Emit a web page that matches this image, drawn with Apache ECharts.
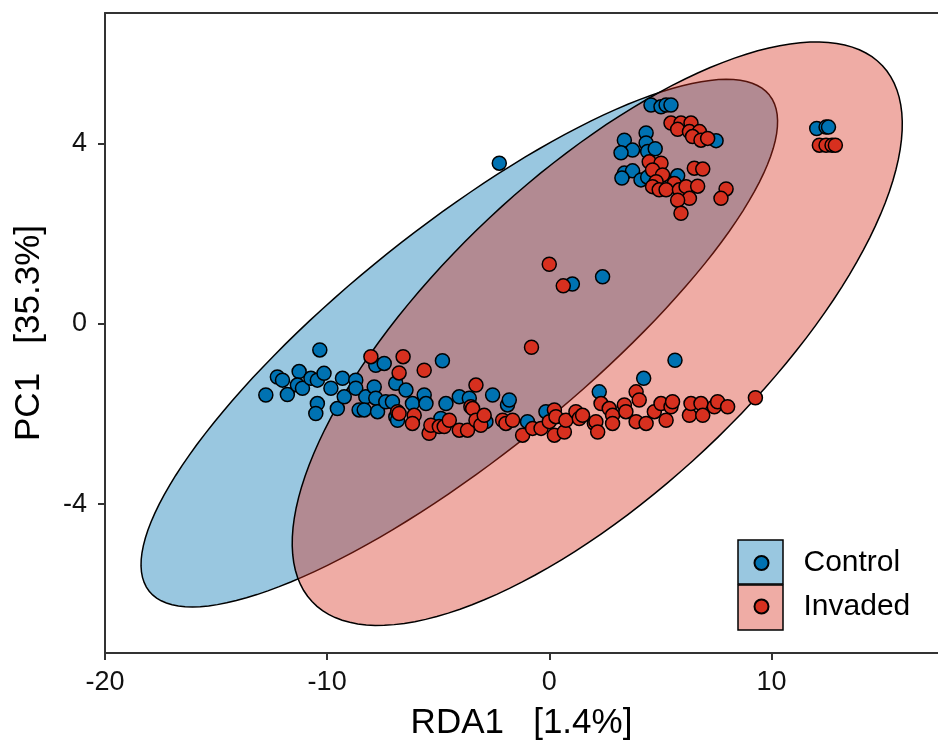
<!DOCTYPE html>
<html lang="en">
<head>
<meta charset="utf-8">
<title>RDA1 vs PC1</title>
<script src="https://cdn.jsdelivr.net/npm/echarts@6/dist/echarts.min.js"></script>
<style>
  html, body { margin: 0; padding: 0; background: #fff; }
  #chart { width: 938px; height: 742px; }
</style>
</head>
<body>
<div id="chart"></div>
<script>
// tick labels
var xTicks = [-20, -10, 0, 10];
var yTicks = [-4, 0, 4];

// groups
var groupNames = ['Control', 'Invaded'];
var groupColors = ['#0072B2', '#D7301F'];

// 95% ellipses: centre and the two semi-axis vectors (data units)
var controlCenter = [-4.05, -0.43];
var controlAxes = [[13.96, 5.50], [3.23, -1.99]];
var invadedCenter = [2.16, -0.22];
var invadedAxes = [[12.84, 5.94], [4.87, -2.56]];

// sample scores [RDA1, PC1]
var controlPoints = [
  [4.58, 4.85], [5.03, 4.81], [5.26, 4.85], [5.48, 4.85], [7.51, 4.06], [4.36, 4.23], [3.38, 4.07], [4.36, 4.01],
  [3.75, 3.85], [3.23, 3.79], [4.43, 3.82], [4.77, 3.88], [3.38, 3.34], [3.75, 3.39], [3.27, 3.23], [4.13, 3.19],
  [4.43, 3.25], [5.78, 3.28],
  [12.04, 4.33], [12.46, 4.36], [12.57, 4.36],
  [-2.25, 3.56], [2.40, 1.04], [1.04, 0.88], [5.66, -0.81], [4.25, -1.21], [2.25, -1.51], [-4.81, -0.82],
  [-12.76, -1.58], [-12.24, -1.18], [-12.01, -1.25], [-11.79, -1.57], [-11.26, -1.06], [-11.34, -1.36],
  [-11.11, -1.43], [-10.73, -1.21], [-10.44, -1.25], [-10.14, -1.10], [-10.33, -0.58], [-10.44, -1.77],
  [-10.51, -1.99], [-9.83, -1.43], [-9.54, -1.88], [-9.31, -1.21], [-9.23, -1.62], [-8.71, -1.25],
  [-8.71, -1.43], [-8.56, -1.91], [-8.26, -1.62], [-8.33, -1.91], [-7.88, -1.40], [-7.81, -1.65],
  [-7.73, -1.95], [-7.81, -0.92], [-7.43, -0.88], [-7.36, -1.73], [-7.06, -1.73], [-6.91, -1.32],
  [-6.45, -1.47], [-6.91, -2.06], [-6.83, -2.14], [-6.16, -1.77], [-5.63, -1.58], [-5.55, -1.77],
  [-4.88, -2.10], [-4.65, -1.77], [-4.05, -1.62], [-3.60, -1.65], [-2.85, -2.17], [-2.55, -1.58],
  [-1.88, -1.80], [-1.80, -1.69], [-0.98, -2.17], [-0.15, -1.95]
];
var invadedPoints = [
  [5.48, 4.45], [5.93, 4.45], [6.38, 4.45], [5.78, 4.31], [6.31, 4.26], [6.76, 4.26], [6.45, 4.15], [6.83, 4.07],
  [7.13, 4.11], [4.50, 3.59], [5.03, 3.56], [4.65, 3.41], [5.10, 3.30], [6.53, 3.45], [6.91, 3.43], [4.81, 3.15],
  [5.63, 3.11], [4.65, 3.04], [4.95, 2.97], [5.26, 2.97], [5.86, 2.97], [6.16, 3.04], [6.68, 3.05], [6.31, 2.78],
  [5.78, 2.74], [5.93, 2.45], [7.96, 2.99], [7.73, 2.78],
  [12.16, 3.96], [12.46, 3.96], [12.73, 3.96], [12.88, 3.96],
  [0.00, 1.32], [0.63, 0.84], [-0.80, -0.52], [-8.03, -0.73], [-6.58, -0.73], [-6.76, -1.09], [-5.63, -1.03],
  [-3.30, -1.36], [9.28, -1.64],
  [-6.83, -1.95], [-6.76, -1.99], [-6.08, -2.03], [-6.16, -2.21], [-5.41, -2.43], [-5.33, -2.25], [-4.95, -2.28],
  [-4.73, -2.28], [-4.50, -2.14], [-4.05, -2.36], [-3.68, -2.36], [-3.53, -1.84], [-3.45, -1.88], [-3.30, -2.14],
  [-3.08, -2.25], [-2.93, -2.03], [-2.10, -2.14], [-1.95, -2.21], [-1.65, -2.14], [-1.20, -2.47], [-0.75, -2.32],
  [-0.37, -2.32], [0.00, -2.17], [0.23, -2.47], [0.23, -1.91], [0.30, -2.06], [0.68, -2.40], [0.75, -2.14],
  [1.20, -1.95], [1.35, -2.10], [1.50, -2.03], [2.03, -2.21], [2.10, -2.17], [2.18, -2.40], [2.33, -1.77],
  [2.70, -1.88], [2.85, -2.03], [2.85, -2.21], [3.38, -1.80], [3.45, -1.95], [3.91, -1.51], [4.05, -1.69],
  [3.91, -2.17], [4.36, -2.21], [4.73, -1.95], [5.03, -1.77], [5.26, -2.14], [5.48, -1.84], [5.55, -1.73],
  [6.31, -2.03], [6.38, -1.77], [6.83, -1.77], [6.91, -2.03], [7.43, -1.84], [7.58, -1.73], [8.03, -1.84]
];

var FONT = '"Liberation Sans", Arial, sans-serif';

function hexA(hex, a) {
  var n = parseInt(hex.slice(1), 16);
  return 'rgba(' + (n >> 16) + ',' + ((n >> 8) & 255) + ',' + (n & 255) + ',' + a + ')';
}

// ellipse outline traced through the axes' own coordinate transform
function ellipseSeries(name, center, axes, color) {
  return {
    name: name + ' ellipse',
    type: 'custom',
    silent: true,
    data: [center],
    renderItem: function (params, api) {
      var pts = [];
      for (var i = 0; i <= 144; i++) {
        var t = i / 144 * Math.PI * 2;
        var c = Math.cos(t), s = Math.sin(t);
        pts.push(api.coord([
          center[0] + axes[0][0] * c + axes[1][0] * s,
          center[1] + axes[0][1] * c + axes[1][1] * s
        ]));
      }
      return {
        type: 'polygon',
        shape: { points: pts },
        style: { fill: hexA(color, 0.4), stroke: '#000', lineWidth: 1.5 }
      };
    }
  };
}

function pointSeries(name, data, color) {
  return {
    name: name,
    type: 'scatter',
    data: data,
    symbol: 'circle',
    symbolSize: 14,
    itemStyle: { color: color, borderColor: '#000', borderWidth: 1.5, opacity: 1 },
    emphasis: { disabled: true }
  };
}

var axisColor = '#333';

var chart = echarts.init(document.getElementById('chart'));
var option = {
  animation: false,
  backgroundColor: '#fff',
  grid: { left: 105, right: 0, top: 13, bottom: 89, outerBoundsMode: 'none' },
  legend: {
    data: groupNames,
    orient: 'vertical',
    left: 753.5,
    top: 548,
    padding: 0,
    itemWidth: 14,
    itemHeight: 14,
    itemGap: 13.5,
    selectedMode: false,
    textStyle: { fontFamily: FONT, fontSize: 30, color: '#000', lineHeight: 14, padding: [0, 0, 0, 30] }
  },
  graphic: [
    { type: 'rect', z: -1, shape: { x: 738, y: 540, width: 45, height: 44 },
      style: { fill: hexA(groupColors[0], 0.4), stroke: '#000', lineWidth: 1.5 } },
    { type: 'rect', z: -1, shape: { x: 738, y: 585, width: 45, height: 45 },
      style: { fill: hexA(groupColors[1], 0.4), stroke: '#000', lineWidth: 1.5 } }
  ],
  xAxis: [{
    type: 'value',
    min: -20,
    max: 17.5,
    name: 'RDA1   [1.4%]',
    nameLocation: 'middle',
    nameGap: 53,
    nameTextStyle: { fontFamily: FONT, fontSize: 35, color: '#000' },
    axisLine: { onZero: false, lineStyle: { color: axisColor, width: 2 } },
    axisTick: { customValues: xTicks, length: 7, lineStyle: { color: axisColor, width: 2 } },
    axisLabel: { customValues: xTicks, margin: 16, fontFamily: FONT, fontSize: 27, color: '#111' },
    splitLine: { show: false }
  }, {
    type: 'value',
    position: 'top',
    min: -20,
    max: 17.5,
    axisLine: { show: true, onZero: false, lineStyle: { color: axisColor, width: 2 } },
    axisTick: { show: false },
    axisLabel: { show: false },
    splitLine: { show: false }
  }],
  yAxis: {
    type: 'value',
    min: -7.3,
    max: 6.89,
    name: 'PC1   [35.3%]',
    nameLocation: 'middle',
    nameGap: 58,
    nameTextStyle: { fontFamily: FONT, fontSize: 35, color: '#000' },
    axisLine: { show: true, onZero: false, lineStyle: { color: axisColor, width: 2 } },
    axisTick: { show: true, customValues: yTicks, length: 7, lineStyle: { color: axisColor, width: 2 } },
    axisLabel: { customValues: yTicks, margin: 18, fontFamily: FONT, fontSize: 27, color: '#111' },
    splitLine: { show: false }
  },
  series: [
    ellipseSeries(groupNames[0], controlCenter, controlAxes, groupColors[0]),
    ellipseSeries(groupNames[1], invadedCenter, invadedAxes, groupColors[1]),
    pointSeries(groupNames[0], controlPoints, groupColors[0]),
    pointSeries(groupNames[1], invadedPoints, groupColors[1])
  ]
};
chart.setOption(option);
</script>
</body>
</html>
